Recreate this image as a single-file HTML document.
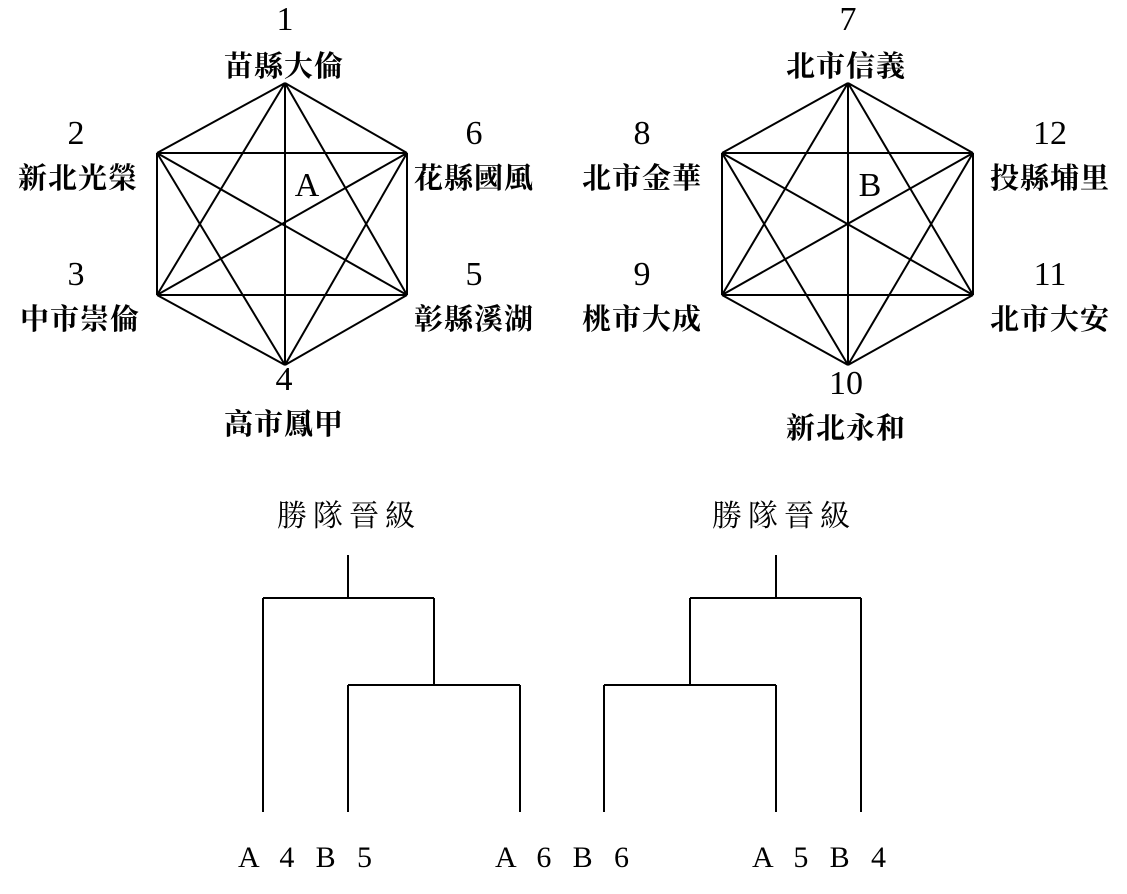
<!DOCTYPE html>
<html><head><meta charset="utf-8"><style>
html,body{margin:0;padding:0;background:#fff;}
svg{display:block}
.n{font-family:"Liberation Serif","Noto Serif CJK SC",serif;font-size:34px;}
.c{font-family:"Liberation Serif","Noto Serif CJK SC",serif;font-size:29px;font-weight:bold;letter-spacing:1px;}
.s{font-family:"Liberation Serif","Noto Serif CJK SC",serif;font-size:30px;letter-spacing:6px;}
.b{font-family:"Liberation Serif",serif;font-size:30px;}
</style></head><body>
<svg width="1127" height="894" viewBox="0 0 1127 894" xmlns="http://www.w3.org/2000/svg">
<g stroke="#000" stroke-width="2" fill="none">
<path d="M285 83L157 153M285 83L407 153M285 83L157 295M285 83L407 295M285 83L285 365
M157 153L407 153M157 153L157 295M157 153L407 295M157 153L285 365
M407 153L157 295M407 153L407 295M407 153L285 365
M157 295L407 295M157 295L285 365M407 295L285 365"/>
<path d="M848 83L722 153M848 83L973 153M848 83L722 295M848 83L973 295M848 83L848 365
M722 153L973 153M722 153L722 295M722 153L973 295M722 153L848 365
M973 153L722 295M973 153L973 295M973 153L848 365
M722 295L973 295M722 295L848 365M973 295L848 365"/>
<path d="M348 555V598M263 598H434M263 598V812M434 598V685M348 685H520M348 685V812M520 685V812"/>
<path d="M776 555V598M690 598H861M861 598V812M690 598V685M604 685H776M604 685V812M776 685V812"/>
</g>
<g text-anchor="middle">
<text class="n" x="285" y="30">1</text><text class="c" x="284" y="76">苗縣大倫</text>
<text class="n" x="76" y="144">2</text><text class="c" x="78" y="188">新北光榮</text>
<text class="n" x="76" y="285">3</text><text class="c" x="80" y="329">中市崇倫</text>
<text class="n" x="474" y="144">6</text><text class="c" x="474" y="188">花縣國風</text>
<text class="n" x="474" y="285">5</text><text class="c" x="474" y="329">彰縣溪湖</text>
<text class="n" x="284" y="390">4</text><text class="c" x="284" y="434">高市鳳甲</text>
<text class="n" x="307" y="196">A</text>
<text class="n" x="848" y="30">7</text><text class="c" x="846" y="76">北市信義</text>
<text class="n" x="642" y="144">8</text><text class="c" x="642" y="188">北市金華</text>
<text class="n" x="642" y="285">9</text><text class="c" x="642" y="329">桃市大成</text>
<text class="n" x="1050" y="144">12</text><text class="c" x="1050" y="188">投縣埔里</text>
<text class="n" x="1050" y="285">11</text><text class="c" x="1050" y="329">北市大安</text>
<text class="n" x="846" y="394">10</text><text class="c" x="846" y="438">新北永和</text>
<text class="n" x="870" y="196">B</text>
</g>
<text class="s" x="277" y="526">勝隊晉級</text>
<text class="s" x="712" y="526">勝隊晉級</text>
<g class="b">
<text x="238" y="867" textLength="134" lengthAdjust="spacing">A 4 B 5</text>
<text x="495" y="867" textLength="134" lengthAdjust="spacing">A 6 B 6</text>
<text x="752" y="867" textLength="134" lengthAdjust="spacing">A 5 B 4</text>
</g>
</svg>
</body></html>
